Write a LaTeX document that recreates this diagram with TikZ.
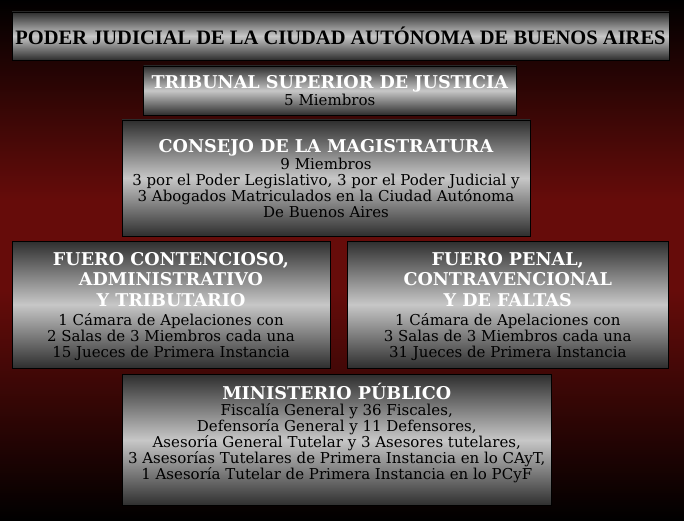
\documentclass[tikz,border=0pt]{standalone}
\usepackage{fontspec}
\newfontfamily\headfont{DejaVu Serif}
\newfontfamily\mainheadfont{Liberation Serif}
\newfontfamily\bodyfont{DejaVu Serif}
\definecolor{bgred}{HTML}{660C0A}
\newcommand\bodysize{\fontsize{15}{16}\selectfont\lineskiplimit=-20pt\relax}
\tikzset{%
  % Specifications for style of boxes:
          base/.style = {rectangle, draw=black, line width=0.8pt, align=center,
                         top color=black!82, bottom color=black!82, middle color=black!22,
                         inner sep=0pt, text=black,
                         font=\bodyfont\bodysize},
      titlebox/.style = {base, minimum width=657pt, minimum height=48pt,
                         font=\mainheadfont\bfseries\fontsize{20.5}{22}\selectfont},
     organbox/.style = {base},
}
\newcommand\hd[1]{{\color{white}\headfont\bfseries\fontsize{17.6}{20}\selectfont #1}}

\begin{document}
\begin{tikzpicture}[x=1pt, y=-1pt]
  \useasboundingbox (0,0) rectangle (684,521);
  % background
  \fill[top color=black, bottom color=bgred] (0,0) rectangle (684,200);
  \fill[bgred] (0,200) rectangle (684,290);
  \fill[top color=bgred, bottom color=black] (0,290) rectangle (684,521);

  % Specification of nodes (position, etc.)
  \node (judicial) [titlebox] at (340.5,36) {PODER JUDICIAL DE LA CIUDAD AUT\'ONOMA DE BUENOS AIRES};
  \node (tsj)      [organbox, minimum width=372.5pt, minimum height=49pt] at (329.75,90.5)
                   {\hd{TRIBUNAL SUPERIOR DE JUSTICIA}\\[1pt]5 Miembros};
  \node (consejo)  [organbox, minimum width=408pt, minimum height=116pt, text depth=-4pt]
                   at (326,178)
                   {\hd{CONSEJO DE LA MAGISTRATURA}\\[1pt]9 Miembros\\
                    3 por el Poder Legislativo, 3 por el Poder Judicial y\\
                    3 Abogados Matriculados en la Ciudad Aut\'onoma\\De Buenos Aires};
  \node (cayt)     [organbox, minimum width=318pt, minimum height=127pt, text depth=-2.5pt]
                   at (171,304.5)
                   {\hd{FUERO CONTENCIOSO,}\\[4.5pt]\hd{ADMINISTRATIVO}\\[4.5pt]\hd{Y TRIBUTARIO}\\[3pt]
                    1 C\'amara de Apelaciones con\\2 Salas de 3 Miembros cada una\\
                    15 Jueces de Primera Instancia};
  \node (penal)    [organbox, minimum width=320.5pt, minimum height=127pt, text depth=-2.5pt]
                   at (507.75,304.5)
                   {\hd{FUERO PENAL,}\\[4.5pt]\hd{CONTRAVENCIONAL}\\[4.5pt]\hd{Y DE FALTAS}\\[3pt]
                    1 C\'amara de Apelaciones con\\3 Salas de 3 Miembros cada una\\
                    31 Jueces de Primera Instancia};
  \node (mpf)      [organbox, minimum width=429.5pt, minimum height=131.5pt, text depth=18pt]
                   at (336.75,440)
                   {\hd{MINISTERIO P\'UBLICO}\\Fiscal\'ia General y 36 Fiscales,\\
                    Defensor\'ia General y 11 Defensores,\\
                    Asesor\'ia General Tutelar y 3 Asesores tutelares,\\
                    3 Asesor\'ias Tutelares de Primera Instancia en lo CAyT,\\
                    1 Asesor\'ia Tutelar de Primera Instancia en lo PCyF};
\end{tikzpicture}
\end{document}
